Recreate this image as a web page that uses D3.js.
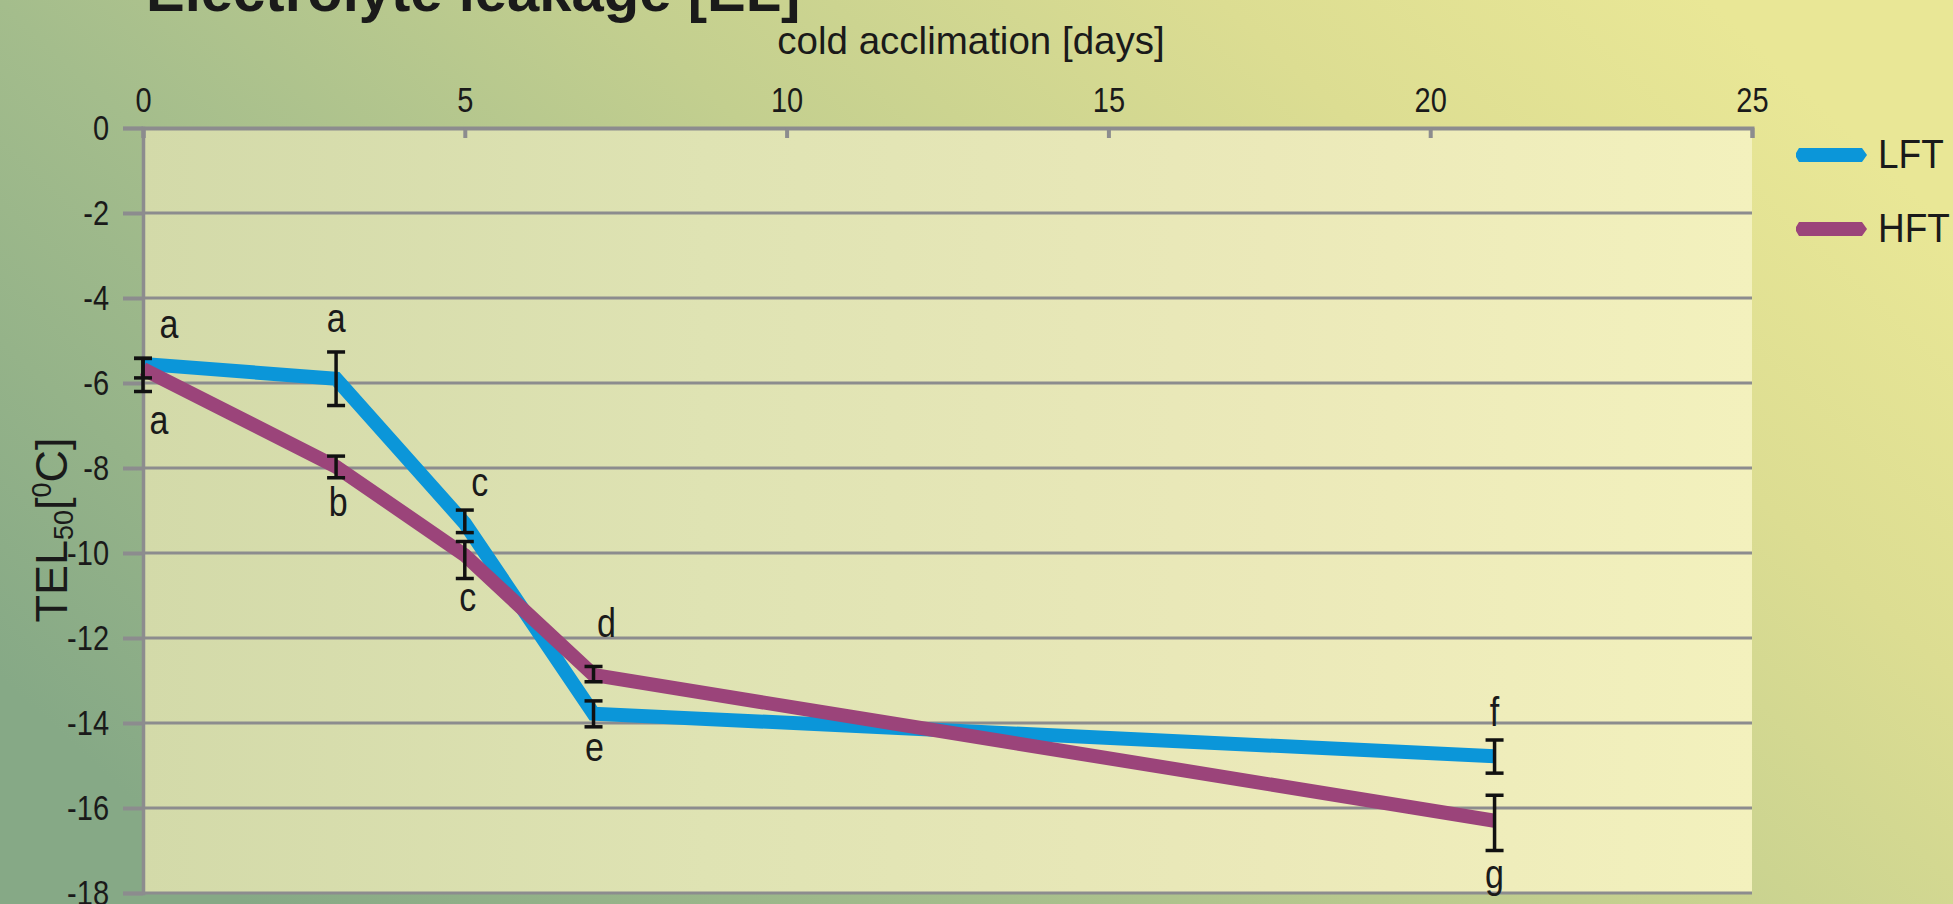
<!DOCTYPE html>
<html>
<head>
<meta charset="utf-8">
<script src="https://cdn.jsdelivr.net/npm/d3@7"></script>
<style>
  html, body { margin: 0; padding: 0; background: #b9c98f; }
  svg { display: block; font-family: "Liberation Sans", Arial, sans-serif; }
</style>
</head>
<body>
<svg id="chart" width="1953" height="904"></svg>
<script>
// Cold acclimation time points (days)
const days = [0, 3, 5, 7, 21];

// TEL50 values (°C) for the two genotypes
const lftValues = [-5.55, -5.9, -9.3, -13.78, -14.78];
const hftValues = [-5.67, -7.97, -10.05, -12.87, -16.3];

// Error bar extents above / below each value
const lftErrUp   = [0.13, 0.63, 0.31, 0.30, 0.38];
const lftErrDown = [0.33, 0.63, 0.22, 0.31, 0.40];
const hftErrUp   = [0.25, 0.25, 0.32, 0.20, 0.60];
const hftErrDown = [0.53, 0.26, 0.55, 0.16, 0.70];

// Significance letters per point
const lftLetters = ["a", "a", "c", "e", "f"];
const hftLetters = ["a", "b", "c", "d", "g"];

// Axis ticks
const xTicks = [0, 5, 10, 15, 20, 25];
const yTicks = [0, -2, -4, -6, -8, -10, -12, -14, -16, -18];

const seriesNames = ["LFT", "HFT"];
const seriesColors = ["#0b96d9", "#9b447a"];

// [dx, dy] nudges for the letter labels above / below each time point
const letterNudgeAbove = [[26, 0], [0, 0], [15, 6], [13, -9], [0, 6]];
const letterNudgeBelow = [[16, 7], [2, 3], [3, -3], [1, -1], [0, 2]];

const W = 1953, H = 904;
const plot = { left: 143, right: 1752, top: 128, bottom: 893 };
const stretch = "scale(1,1.2)";   // glyphs in this figure are drawn a little taller than wide

const svg = d3.select("#chart");
const defs = svg.append("defs");

// page background: green at the lower left fading to yellow at the upper right
const bg = defs.append("linearGradient").attr("id", "bgGrad")
  .attr("x1", "0").attr("y1", "0.75").attr("x2", "1").attr("y2", "0.25");
[["0", "#86a986"], ["0.3", "#a4bd8c"], ["0.55", "#c3cf8f"], ["0.8", "#dcdd92"], ["1", "#e9e796"]]
  .forEach(([o, c]) => bg.append("stop").attr("offset", o).attr("stop-color", c));

// plot area: pale green to pale yellow
const pg = defs.append("linearGradient").attr("id", "plotGrad")
  .attr("x1", "0").attr("y1", "0").attr("x2", "1").attr("y2", "0");
[["0", "#d3daa9"], ["0.35", "#dfe3b3"], ["0.7", "#ebe9b9"], ["1", "#f3f1bd"]]
  .forEach(([o, c]) => pg.append("stop").attr("offset", o).attr("stop-color", c));

svg.append("rect").attr("width", W).attr("height", H).attr("fill", "url(#bgGrad)");

const x = d3.scaleLinear().domain([0, 25]).range([plot.left, plot.right]);
const y = d3.scaleLinear().domain([-18, 0]).range([plot.bottom, plot.top]);

svg.append("rect")
  .attr("x", plot.left).attr("y", plot.top)
  .attr("width", plot.right - plot.left).attr("height", plot.bottom - plot.top)
  .attr("fill", "url(#plotGrad)");

const gridColor = "#8c8c8e";

// horizontal gridlines
svg.append("g").selectAll("line").data(yTicks.filter(t => t !== 0)).join("line")
  .attr("x1", plot.left).attr("x2", plot.right)
  .attr("y1", d => y(d)).attr("y2", d => y(d))
  .attr("stroke", gridColor).attr("stroke-width", 3);

// left axis
const yAxis = svg.append("g").attr("transform", `translate(${plot.left},0)`)
  .call(d3.axisLeft(y).tickValues(yTicks).tickSize(20).tickPadding(14));
yAxis.select(".domain").attr("stroke", gridColor).attr("stroke-width", 3.5);
yAxis.selectAll(".tick line").attr("stroke", gridColor).attr("stroke-width", 4);
yAxis.selectAll(".tick text").attr("font-size", 29).attr("fill", "#1a1a1a")
  .attr("font-family", "Liberation Sans, Arial, sans-serif")
  .attr("transform", stretch)
  .text(d => d < 0 ? "-" + Math.abs(d) : d);

// top axis with ticks pointing into the plot
const xAxis = svg.append("g").attr("transform", `translate(0,${plot.top})`)
  .call(d3.axisTop(x).tickValues(xTicks).tickSize(-10).tickPadding(13));
xAxis.select(".domain").attr("stroke", gridColor).attr("stroke-width", 4);
xAxis.selectAll(".tick line").attr("stroke", gridColor).attr("stroke-width", 4);
xAxis.selectAll(".tick text").attr("font-size", 29).attr("fill", "#1a1a1a")
  .attr("font-family", "Liberation Sans, Arial, sans-serif")
  .attr("transform", stretch);

// titles
svg.append("text").attr("x", 146).attr("y", 11)
  .attr("font-size", 58).attr("font-weight", "bold").attr("fill", "#1a1a1a")
  .text("Electrolyte leakage [EL]");

svg.append("text").attr("x", 971).attr("y", 54).attr("text-anchor", "middle")
  .attr("font-size", 38.5).attr("fill", "#1a1a1a")
  .text("cold acclimation [days]");

const yl = svg.append("text")
  .attr("transform", "translate(67,530) rotate(-90)")
  .attr("text-anchor", "middle").attr("font-size", 45).attr("fill", "#1a1a1a");
yl.append("tspan").text("TEL");
yl.append("tspan").attr("font-size", 27).attr("dy", 6).text("50");
yl.append("tspan").attr("dy", -6).text("[");
yl.append("tspan").attr("font-size", 27).attr("dy", -16).text("0");
yl.append("tspan").attr("dy", 16).text("C]");

// series lines
const series = [
  { name: "LFT", values: lftValues, color: seriesColors[0] },
  { name: "HFT", values: hftValues, color: seriesColors[1] }
];

const line = d3.line().x((d, i) => x(days[i])).y(d => y(d));

svg.append("g").selectAll("path").data(series).join("path")
  .attr("d", s => line(s.values))
  .attr("fill", "none").attr("stroke", s => s.color)
  .attr("stroke-width", 14).attr("stroke-linejoin", "miter").attr("stroke-miterlimit", 4);

// error bars
const bars = [];
[[lftValues, lftErrUp, lftErrDown], [hftValues, hftErrUp, hftErrDown]].forEach(([vals, up, down]) =>
  vals.forEach((v, i) => bars.push({ x: days[i], hi: v + up[i], lo: v - down[i] })));
const capW = 9;
const eb = svg.append("g").attr("stroke", "#111").attr("stroke-width", 3.5);
eb.selectAll(".stem").data(bars).join("line")
  .attr("x1", d => x(d.x)).attr("x2", d => x(d.x))
  .attr("y1", d => y(d.hi)).attr("y2", d => y(d.lo));
eb.selectAll(".capHi").data(bars).join("line")
  .attr("x1", d => x(d.x) - capW).attr("x2", d => x(d.x) + capW)
  .attr("y1", d => y(d.hi)).attr("y2", d => y(d.hi));
eb.selectAll(".capLo").data(bars).join("line")
  .attr("x1", d => x(d.x) - capW).attr("x2", d => x(d.x) + capW)
  .attr("y1", d => y(d.lo)).attr("y2", d => y(d.lo));

// significance letters: the upper series' letter sits above the bars, the other below
const letters = [];
days.forEach((dday, i) => {
  const lftUpper = lftValues[i] >= hftValues[i];
  const top = Math.max(lftValues[i] + lftErrUp[i], hftValues[i] + hftErrUp[i]);
  const bot = Math.min(lftValues[i] - lftErrDown[i], hftValues[i] - hftErrDown[i]);
  const [ax, ay] = letterNudgeAbove[i], [bx, by] = letterNudgeBelow[i];
  letters.push({ t: lftUpper ? lftLetters[i] : hftLetters[i], x: x(dday) + ax, y: y(top) - 20 + ay });
  letters.push({ t: lftUpper ? hftLetters[i] : lftLetters[i], x: x(dday) + bx, y: y(bot) + 35 + by });
});
svg.append("g").selectAll("text").data(letters).join("text")
  .attr("transform", d => `translate(${d.x},${d.y}) ${stretch}`)
  .attr("text-anchor", "middle")
  .attr("font-size", 34).attr("fill", "#1a1a1a").text(d => d.t);

// legend
const legend = svg.append("g");
seriesNames.forEach((name, i) => {
  const cy = 155 + i * 74;
  const x0 = 1796, x1 = 1867, h = 7;
  const p = d3.path();
  p.moveTo(x0 + 3, cy - h); p.lineTo(x1 - 5, cy - h); p.lineTo(x1, cy);
  p.lineTo(x1 - 5, cy + h); p.lineTo(x0 + 3, cy + h); p.lineTo(x0, cy + 2); p.lineTo(x0, cy - 2);
  p.closePath();
  legend.append("path").attr("d", p.toString()).attr("fill", seriesColors[i]);
  legend.append("text").attr("transform", `translate(1878,${cy + 13}) scale(1,1.1)`)
    .attr("font-size", 37).attr("fill", "#1a1a1a").text(name);
});
</script>
</body>
</html>
